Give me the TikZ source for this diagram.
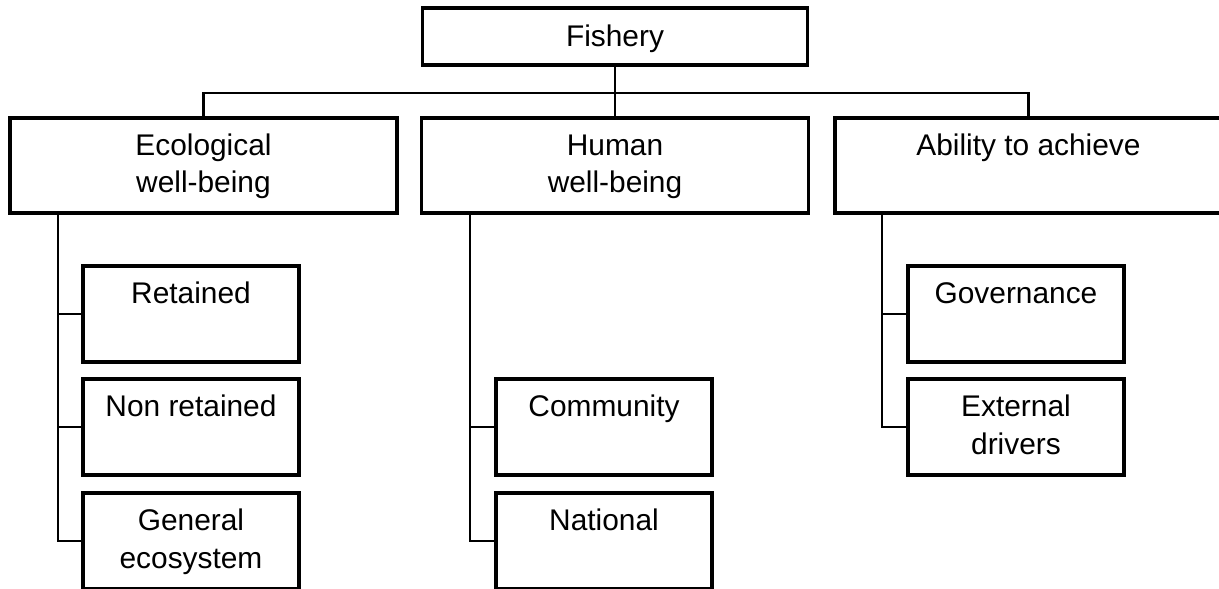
\documentclass[tikz,border=0pt]{standalone}
\usepackage{fontspec}
\setmainfont{Liberation Sans}
\usepackage{tikz}

\newcommand{\boxfont}{\fontsize{17}{21.2}\selectfont}

\tikzset{
    box/.style={draw, line width=0.07cm, inner sep=0pt, align=center, font=\boxfont},
    topbox/.style={box, minimum width=7.74cm, minimum height=1.9cm, text height=0.43cm, text depth=0.81cm},
    subbox/.style={box, minimum width=4.32cm, minimum height=1.92cm, text height=0.43cm, text depth=0.86cm},
    twoline/.style={text height=1.18cm, text depth=0.09cm},
    link/.style={line width=0.05cm},
}

\begin{document}
\begin{tikzpicture}
    \useasboundingbox (0,0) rectangle (24.38,-11.78);

    % Fishery
    \node[box, minimum width=7.7cm, minimum height=1.14cm, text height=0.43cm, text depth=0.03cm] (fish) at (12.3,-0.73) {Fishery};

    % Second row
    \node[topbox, twoline] (eco) at (4.07,-3.31) {Ecological\\well-being};
    \node[topbox, twoline] (hum) at (12.3,-3.31) {Human\\well-being};
    \node[topbox] (abl) at (20.57,-3.31) {Ability to achieve};
    \coordinate (bus) at (12.3,-1.86);
    \draw[link] (fish.south) -- (hum.north);
    \draw[link] (eco.north) |- (bus) -| (abl.north);

    % Ecological
    \node[subbox] (ret) at (3.82,-6.28) {Retained};
    \node[subbox] (nret) at (3.82,-8.54) {Non retained};
    \node[subbox, twoline] (gen) at (3.82,-10.82) {General\\ecosystem};
    \coordinate (ecotrunk) at (1.16,0);
    \draw[link] (eco.south -| ecotrunk) |- (gen.west);
    \draw[link] (ecotrunk |- ret.west) -- (ret.west);
    \draw[link] (ecotrunk |- nret.west) -- (nret.west);

    % Human
    \node[subbox] (com) at (12.08,-8.54) {Community};
    \node[subbox] (nat) at (12.08,-10.82) {National};
    \coordinate (humtrunk) at (9.4,0);
    \draw[link] (hum.south -| humtrunk) |- (nat.west);
    \draw[link] (humtrunk |- com.west) -- (com.west);

    % Ability
    \node[subbox] (gov) at (20.32,-6.28) {Governance};
    \node[subbox, twoline] (ext) at (20.32,-8.54) {External\\drivers};
    \coordinate (abltrunk) at (17.64,0);
    \draw[link] (abl.south -| abltrunk) |- (ext.west);
    \draw[link] (abltrunk |- gov.west) -- (gov.west);
\end{tikzpicture}
\end{document}
